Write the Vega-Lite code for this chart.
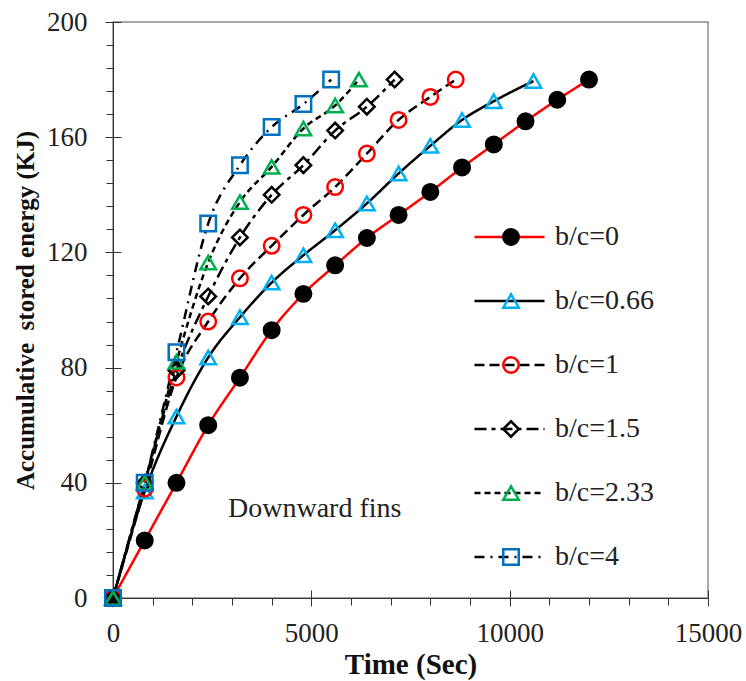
{
  "$schema": "https://vega.github.io/schema/vega-lite/v6.json",
  "width": 595,
  "height": 576,
  "autosize": {"type": "none"},
  "padding": {"left": 113, "top": 22, "right": 38, "bottom": 83},
  "background": "white",
  "config": {
    "view": {"stroke": "#8c8c8c", "strokeWidth": 1.5},
    "font": "Liberation Serif, Times New Roman, serif",
    "axis": {"grid": false, "labelFont": "Liberation Serif, Times New Roman, serif", "titleFont": "Liberation Serif, Times New Roman, serif", "domainColor": "#333", "tickColor": "#333", "labelColor": "#222", "titleColor": "#111"},
    "legend": {"labelFont": "Liberation Serif, Times New Roman, serif"}
  },
  "data": {"values": [
    {"series": "b/c=0", "time": 0, "energy": 0},
    {"series": "b/c=0", "time": 800, "energy": 20},
    {"series": "b/c=0", "time": 1600, "energy": 40},
    {"series": "b/c=0", "time": 2400, "energy": 60},
    {"series": "b/c=0", "time": 3200, "energy": 76.5},
    {"series": "b/c=0", "time": 4000, "energy": 93},
    {"series": "b/c=0", "time": 4800, "energy": 105.6},
    {"series": "b/c=0", "time": 5600, "energy": 115.5},
    {"series": "b/c=0", "time": 6400, "energy": 125},
    {"series": "b/c=0", "time": 7200, "energy": 133},
    {"series": "b/c=0", "time": 8000, "energy": 141},
    {"series": "b/c=0", "time": 8800, "energy": 149.5},
    {"series": "b/c=0", "time": 9600, "energy": 157.5},
    {"series": "b/c=0", "time": 10400, "energy": 165.5},
    {"series": "b/c=0", "time": 11200, "energy": 173},
    {"series": "b/c=0", "time": 12000, "energy": 180},
    {"series": "b/c=0.66", "time": 0, "energy": 0},
    {"series": "b/c=0.66", "time": 800, "energy": 37},
    {"series": "b/c=0.66", "time": 1600, "energy": 63},
    {"series": "b/c=0.66", "time": 2400, "energy": 83.5},
    {"series": "b/c=0.66", "time": 3200, "energy": 97.5},
    {"series": "b/c=0.66", "time": 4000, "energy": 109.5},
    {"series": "b/c=0.66", "time": 4800, "energy": 119},
    {"series": "b/c=0.66", "time": 5600, "energy": 127.7},
    {"series": "b/c=0.66", "time": 6400, "energy": 137},
    {"series": "b/c=0.66", "time": 7200, "energy": 147.4},
    {"series": "b/c=0.66", "time": 8000, "energy": 157},
    {"series": "b/c=0.66", "time": 8800, "energy": 166},
    {"series": "b/c=0.66", "time": 9600, "energy": 172.5},
    {"series": "b/c=0.66", "time": 10600, "energy": 179.5},
    {"series": "b/c=1", "time": 0, "energy": 0},
    {"series": "b/c=1", "time": 800, "energy": 38},
    {"series": "b/c=1", "time": 1600, "energy": 76.6},
    {"series": "b/c=1", "time": 2400, "energy": 96},
    {"series": "b/c=1", "time": 3200, "energy": 111},
    {"series": "b/c=1", "time": 4000, "energy": 122.3},
    {"series": "b/c=1", "time": 4800, "energy": 133},
    {"series": "b/c=1", "time": 5600, "energy": 142.7},
    {"series": "b/c=1", "time": 6400, "energy": 154.3},
    {"series": "b/c=1", "time": 7200, "energy": 166},
    {"series": "b/c=1", "time": 8000, "energy": 174},
    {"series": "b/c=1", "time": 8640, "energy": 180},
    {"series": "b/c=1.5", "time": 0, "energy": 0},
    {"series": "b/c=1.5", "time": 800, "energy": 40},
    {"series": "b/c=1.5", "time": 1600, "energy": 79},
    {"series": "b/c=1.5", "time": 2400, "energy": 104.7},
    {"series": "b/c=1.5", "time": 3200, "energy": 125.2},
    {"series": "b/c=1.5", "time": 4000, "energy": 140},
    {"series": "b/c=1.5", "time": 4800, "energy": 150.3},
    {"series": "b/c=1.5", "time": 5600, "energy": 162.3},
    {"series": "b/c=1.5", "time": 6400, "energy": 170.6},
    {"series": "b/c=1.5", "time": 7100, "energy": 180},
    {"series": "b/c=2.33", "time": 0, "energy": 0},
    {"series": "b/c=2.33", "time": 800, "energy": 40},
    {"series": "b/c=2.33", "time": 1600, "energy": 82},
    {"series": "b/c=2.33", "time": 2400, "energy": 116.5},
    {"series": "b/c=2.33", "time": 3200, "energy": 137.5},
    {"series": "b/c=2.33", "time": 4000, "energy": 149.7},
    {"series": "b/c=2.33", "time": 4800, "energy": 163},
    {"series": "b/c=2.33", "time": 5600, "energy": 171},
    {"series": "b/c=2.33", "time": 6200, "energy": 180},
    {"series": "b/c=4", "time": 0, "energy": 0},
    {"series": "b/c=4", "time": 800, "energy": 40},
    {"series": "b/c=4", "time": 1600, "energy": 85.3},
    {"series": "b/c=4", "time": 2400, "energy": 130},
    {"series": "b/c=4", "time": 3200, "energy": 150.3},
    {"series": "b/c=4", "time": 4000, "energy": 163.5},
    {"series": "b/c=4", "time": 4800, "energy": 171.5},
    {"series": "b/c=4", "time": 5500, "energy": 180}
  ]},
  "resolve": {"axis": {"x": "independent", "y": "independent"}},
  "layer": [
    {
      "mark": {"type": "line", "interpolate": "monotone", "strokeWidth": 2.5},
      "encoding": {
        "x": {"field": "time", "type": "quantitative",
              "scale": {"domain": [0, 15000], "nice": false, "zero": false},
              "axis": {"orient": "bottom", "values": [0, 5000, 10000, 15000], "format": "d", "tickSize": 8, "labelPadding": 14, "labelFontSize": 27, "labelFlush": false, "title": "Time (Sec)", "titleFontSize": 29, "titleFontWeight": "bold", "titlePadding": 4}},
        "y": {"field": "energy", "type": "quantitative",
              "scale": {"domain": [0, 200], "nice": false},
              "axis": {"orient": "left", "values": [0, 40, 80, 120, 160, 200], "tickSize": 8, "labelPadding": 18, "labelFontSize": 27, "labelFlush": false, "title": "Accumulative\u00a0 stored energy (KJ)", "titleFontSize": 25, "titleFontWeight": "bold", "titlePadding": 8}},
        "color": {"field": "series", "type": "nominal",
                  "scale": {"range": ["#ff0000", "#000000", "#000000", "#000000", "#000000", "#000000"]},
                  "legend": {"orient": "none", "legendX": 360, "legendY": 200, "title": null, "padding": 0, "symbolType": "stroke", "symbolSize": 4900, "symbolStrokeWidth": 2.5, "clipHeight": 30, "rowPadding": 34, "labelFontSize": 28, "labelFont": "Liberation Serif, Times New Roman, serif", "labelColor": "#222", "labelOffset": 9}},
        "strokeDash": {"field": "series", "type": "nominal",
                       "scale": {"range": [[1, 0], [1, 0], [10, 5], [12, 5, 4, 5], [6, 4], [10, 6, 2, 6]]}}
      }
    },
    {
      "mark": {"type": "point", "size": 240, "strokeWidth": 2.5, "opacity": 1},
      "encoding": {
        "x": {"field": "time", "type": "quantitative",
              "axis": {"orient": "bottom", "values": [1000, 2000, 3000, 4000, 6000, 7000, 8000, 9000, 11000, 12000, 13000, 14000], "tickSize": 7, "labels": false, "domain": false, "title": null}},
        "y": {"field": "energy", "type": "quantitative",
              "axis": {"orient": "left", "values": [8, 16, 24, 32, 48, 56, 64, 72, 88, 96, 104, 112, 128, 136, 144, 152, 168, 176, 184, 192], "tickSize": 7, "labels": false, "domain": false, "title": null}},
        "shape": {"field": "series", "type": "nominal",
                  "scale": {"domain": ["b/c=0", "b/c=0.66", "b/c=1", "b/c=1.5", "b/c=2.33", "b/c=4"], "range": ["circle", "triangle-up", "circle", "diamond", "triangle-up", "square"]},
                  "legend": {"orient": "none", "legendX": 360, "legendY": 200, "title": null, "padding": 0, "symbolSize": 240, "symbolStrokeWidth": 2.5, "symbolOffset": 24, "clipHeight": 30, "rowPadding": 34, "labelFontSize": 28, "labelExpr": "''", "labelOffset": 9}},
        "stroke": {"field": "series", "type": "nominal",
                   "scale": {"domain": ["b/c=0", "b/c=0.66", "b/c=1", "b/c=1.5", "b/c=2.33", "b/c=4"], "range": ["#000000", "#00b0f0", "#ff0000", "#000000", "#00b050", "#0070c0"]}},
        "fill": {"field": "series", "type": "nominal",
                 "scale": {"domain": ["b/c=0", "b/c=0.66", "b/c=1", "b/c=1.5", "b/c=2.33", "b/c=4"], "range": ["#000000", "transparent", "transparent", "transparent", "transparent", "transparent"]}}
      }
    },
    {
      "data": {"values": [{}]},
      "mark": {"type": "text", "align": "left", "baseline": "alphabetic", "font": "Liberation Serif, Times New Roman, serif", "fontSize": 28, "color": "#222"},
      "encoding": {
        "x": {"datum": 2900, "type": "quantitative",
              "axis": {"orient": "bottom", "values": [5000, 10000, 15000], "tickSize": -8, "labels": false, "domain": false, "title": null}},
        "y": {"datum": 28, "type": "quantitative",
              "axis": {"orient": "left", "values": [40, 80, 120, 160, 200], "tickSize": -8, "labels": false, "domain": false, "title": null}},
        "text": {"value": "Downward fins"}
      }
    }
  ]
}
